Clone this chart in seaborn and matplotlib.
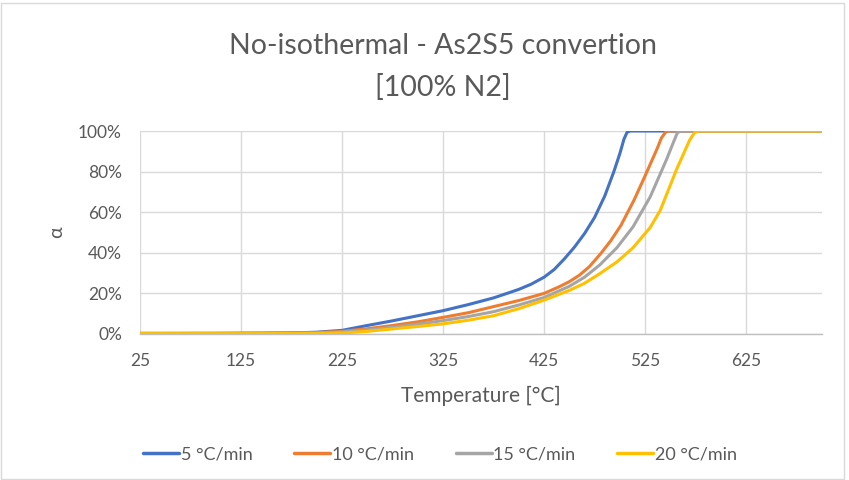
import numpy as np
import pandas as pd
import matplotlib
matplotlib.use("Agg")
import matplotlib.pyplot as plt
import seaborn as sns
from matplotlib.patches import Rectangle
from matplotlib.ticker import FuncFormatter

# ---- data ----
series_names = ["5 °C/min", "10 °C/min", "15 °C/min", "20 °C/min"]
colors = ["#4472C4", "#ED7D31", "#A5A5A5", "#FFC000"]

t_5 = [25, 100, 175, 200, 225, 250, 275, 300, 325, 350, 375, 390, 400, 412, 425, 435, 445, 455, 465, 475, 485, 494, 500, 504, 507, 510, 600, 700]
a_5 = [0.3, 0.3, 0.5, 0.9, 1.8, 4.2, 6.5, 9.0, 11.5, 14.5, 17.8, 20.3, 22.0, 24.5, 28.0, 31.8, 37.0, 42.8, 49.5, 57.5, 68.0, 80.0, 89.0, 96.0, 99.3, 100, 100, 100]

t_10 = [25, 150, 200, 225, 250, 275, 300, 325, 350, 375, 400, 425, 440, 450, 460, 470, 481, 491, 501, 514, 525, 537, 541, 545, 548, 600, 700]
a_10 = [0.3, 0.4, 0.7, 1.3, 2.6, 4.2, 6.0, 8.2, 10.5, 13.5, 16.5, 20.0, 23.3, 25.8, 29.0, 33.3, 39.6, 46.0, 53.5, 66.0, 78.0, 91.5, 96.5, 99.3, 100, 100, 100]

t_15 = [25, 150, 200, 225, 250, 275, 300, 325, 350, 375, 400, 425, 450, 465, 480, 497, 513, 530, 546, 553, 557, 561, 600, 700]
a_15 = [0.2, 0.3, 0.5, 1.0, 2.0, 3.3, 4.8, 6.6, 8.6, 11.0, 14.3, 18.0, 23.5, 28.0, 34.0, 42.5, 52.8, 67.6, 85.8, 94.5, 99.3, 100, 100, 100]

t_20 = [25, 150, 200, 225, 250, 275, 300, 325, 350, 375, 400, 424, 450, 465, 480, 497, 513, 530, 540, 556, 569, 574, 578, 625, 700]
a_20 = [0.2, 0.2, 0.3, 0.5, 1.3, 2.5, 3.7, 5.0, 6.8, 9.0, 12.5, 16.5, 21.5, 25.0, 29.7, 35.5, 42.5, 52.5, 61.0, 81.0, 95.5, 99.3, 100, 100, 100]

x_ticks = [25, 125, 225, 325, 425, 525, 625]
y_ticks = [0, 20, 40, 60, 80, 100]

frames = []
for name, t, a in zip(series_names, [t_5, t_10, t_15, t_20], [a_5, a_10, a_15, a_20]):
    frames.append(pd.DataFrame({"T": t, "alpha": a, "series": name}))
df = pd.concat(frames, ignore_index=True)

# ---- style ----
sns.set_theme(style="white")
plt.rcParams["font.family"] = ["Lato", "DejaVu Sans"]
txt = "#595959"

fig = plt.figure(figsize=(8.49, 4.80), dpi=100)
ax = fig.add_axes([140 / 849, 1 - 334 / 480, (822 - 140) / 849, (334 - 131) / 480])

sns.lineplot(data=df, x="T", y="alpha", hue="series", hue_order=series_names,
             palette=colors, linewidth=2.2, ax=ax, legend=False, sort=False,
             estimator=None)

ax.set_xlim(25, 700)
ax.set_ylim(0, 100)
ax.set_xticks(x_ticks)
ax.set_yticks(y_ticks)
ax.yaxis.set_major_formatter(FuncFormatter(lambda v, p: f"{int(v)}%"))
ax.grid(True, color="#D9D9D9", linewidth=1.0)
ax.set_axisbelow(True)
for s in ["top", "right", "left"]:
    ax.spines[s].set_visible(False)
ax.spines["bottom"].set_color("#BFBFBF")
ax.spines["bottom"].set_linewidth(1.0)
ax.tick_params(axis="x", length=0, labelsize=12.5, labelcolor=txt, pad=14)
ax.tick_params(axis="y", length=0, labelsize=12.5, labelcolor=txt, pad=13)
ax.set_xlabel("Temperature [°C]", fontsize=15, color=txt, labelpad=12)
ax.set_ylabel("α", fontsize=14, color=txt, labelpad=9)

fig.text(443 / 849, 1 - 46 / 480, "No-isothermal - As2S5 convertion", ha="center", va="center",
         fontsize=20.5, color=txt)
fig.text(443 / 849, 1 - 87 / 480, "[100% N2]", ha="center", va="center",
         fontsize=20.5, color=txt)

handles = [plt.Line2D([0], [0], color=c, lw=2.5) for c in colors]
fig.legend(handles, series_names, loc="center", bbox_to_anchor=(440 / 849, 1 - 454 / 480),
           ncol=4, frameon=False, fontsize=13, labelcolor=txt, handlelength=2.0,
           handletextpad=0.1, columnspacing=2.3)

fig.patches.append(Rectangle((1 / 849, 1 / 480), 843 / 849, 476 / 480, transform=fig.transFigure,
                             fill=False, edgecolor="#D9D9D9", linewidth=1.0))

fig.savefig("out.png", dpi=100, facecolor="white")
